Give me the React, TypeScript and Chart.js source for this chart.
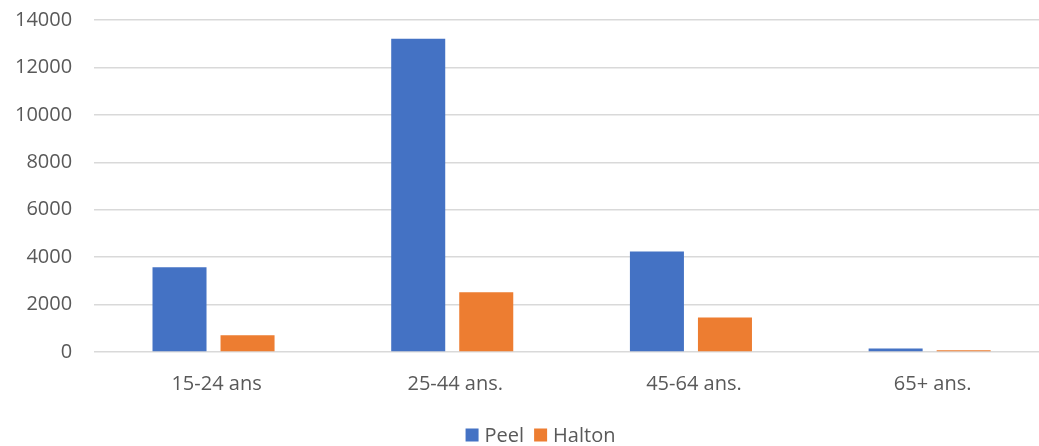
import React, { useEffect, useRef } from "react";
import { Chart, registerables } from "chart.js";

Chart.register(...registerables);

const categories = ["15-24 ans", "25-44 ans.", "45-64 ans.", "65+ ans."];
const peelValues = [3570, 13210, 4240, 150];
const haltonValues = [710, 2520, 1460, 70];
const yTicks = [0, 2000, 4000, 6000, 8000, 10000, 12000, 14000];

const FONT = "'Open Sans', 'Liberation Sans', sans-serif";
const TEXT_GRAY = "#595959";

// Compact bottom legend: square swatch, small gap, label; items packed tightly.
const compactLegend = {
  id: "compactLegend",
  afterDraw(chart: any) {
    const ctx = chart.ctx;
    const box = 13;
    const textGap = 6;
    const itemGap = 10;
    ctx.save();
    ctx.font = `20px ${FONT}`;
    ctx.textBaseline = "middle";
    const items = chart.data.datasets.map((ds: any) => ({
      label: ds.label,
      color: ds.backgroundColor,
      w: ctx.measureText(ds.label).width,
    }));
    const total =
      items.reduce((s: number, it: any) => s + box + textGap + it.w, 0) +
      itemGap * (items.length - 1);
    const cy = chart.height - 21;
    let x = chart.width / 2 + 18 - total / 2;
    items.forEach((it: any) => {
      ctx.fillStyle = it.color;
      ctx.fillRect(x, cy - box / 2, box, box);
      x += box + textGap;
      ctx.fillStyle = TEXT_GRAY;
      ctx.fillText(it.label, x, cy + 1);
      x += it.w + itemGap;
    });
    ctx.restore();
  },
};

export default function App() {
  const canvasRef = useRef<HTMLCanvasElement | null>(null);

  useEffect(() => {
    if (!canvasRef.current) return;
    const chart = new Chart(canvasRef.current, {
      type: "bar",
      data: {
        labels: categories,
        datasets: [
          {
            label: "Peel",
            data: peelValues,
            backgroundColor: "#4472C4",
            barPercentage: 0.794,
            categoryPercentage: 0.57,
          },
          {
            label: "Halton",
            data: haltonValues,
            backgroundColor: "#ED7D31",
            barPercentage: 0.794,
            categoryPercentage: 0.57,
          },
        ],
      },
      plugins: [compactLegend],
      options: {
        animation: false,
        responsive: false,
        maintainAspectRatio: false,
        layout: { padding: { top: 8, right: 3, left: 0, bottom: 36 } },
        plugins: {
          tooltip: { enabled: false },
          legend: { display: false },
        },
        scales: {
          x: {
            grid: { display: false },
            border: { display: false },
            afterFit: (axis: any) => {
              axis.height += 12;
            },
            ticks: {
              color: TEXT_GRAY,
              font: { family: FONT, size: 20 },
              padding: 12,
              labelOffset: 3,
            },
          },
          y: {
            min: 0,
            max: 14000,
            afterBuildTicks: (axis: any) => {
              axis.ticks = yTicks.map((v) => ({ value: v }));
            },
            grid: {
              color: "#d9d9d9",
              lineWidth: 1.5,
              drawTicks: false,
            },
            border: { display: false },
            ticks: {
              color: TEXT_GRAY,
              font: { family: FONT, size: 20 },
              padding: 22,
              callback: (value: any) => String(value),
            },
          },
        },
      },
    });
    return () => chart.destroy();
  }, []);

  return (
    <div
      style={{
        position: "absolute",
        left: 0,
        top: 0,
        width: 1039,
        height: 446,
        overflow: "hidden",
        background: "#fff",
      }}
    >
      <canvas
        ref={canvasRef}
        width={1059}
        height={470}
        style={{ position: "absolute", left: -7, top: -14 }}
      />
    </div>
  );
}
